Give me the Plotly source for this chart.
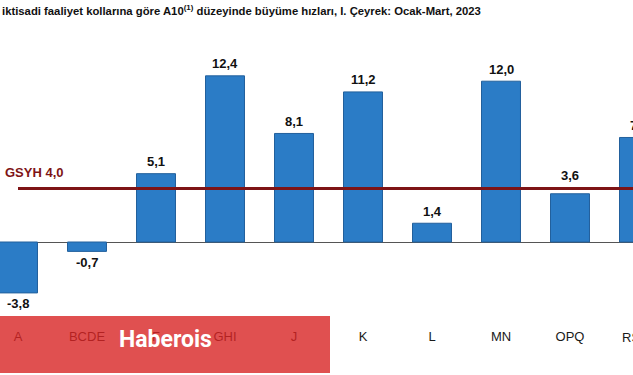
import plotly.graph_objects as go

categories = ["A", "BCDE", "F", "GHI", "J", "K", "L", "MN", "OPQ", "RSTU"]
growth = [-3.8, -0.7, 5.1, 12.4, 8.1, 11.2, 1.4, 12.0, 3.6, 7.8]
gdp_growth = 4.0
title_text = "iktisadi faaliyet kollarına göre A10<sup>(1)</sup> düzeyinde büyüme hızları, I. Çeyrek: Ocak-Mart, 2023"
watermark = "Haberois"

W, H = 633, 375
plot_bottom = 327
zero_px = 242
ppu = 13.4
x_range = [-18 / 69, (W - 18) / 69]

def fmt(v):
    return f"{v:.1f}".replace(".", ",")

def to_paper_x(i):
    return (i - x_range[0]) / (x_range[1] - x_range[0])

def to_paper_y(v):
    y_lo = -(plot_bottom - zero_px) / ppu
    y_hi = zero_px / ppu
    return (v - y_lo) / (y_hi - y_lo)

fig = go.Figure()
fig.add_trace(go.Bar(
    x=list(range(len(categories))), y=growth,
    width=0.565,
    marker=dict(color="#2B7CC6", line=dict(color="#22609C", width=1)),
    hoverinfo="skip",
))

# value labels (paper coords so that partly-visible bars keep their labels)
for i, v in enumerate(growth):
    if v >= 0:
        near_line = gdp_growth - 1.5 < v < gdp_growth
        shift = 18 if near_line else 12
    else:
        shift = -11
    fig.add_annotation(xref="paper", yref="paper", x=to_paper_x(i), y=to_paper_y(v), yshift=shift,
                       text="<b>" + fmt(v) + "</b>", showarrow=False,
                       xanchor="center", yanchor="middle",
                       font=dict(family="Liberation Sans, Arial", size=13, color="#111111"))

# categories outside the visible range (tick labels get dropped there)
for i, c in enumerate(categories):
    if i > x_range[1]:
        fig.add_annotation(xref="paper", yref="paper", x=to_paper_x(i),
                           y=-(337 - plot_bottom) / plot_bottom,
                           text=c, showarrow=False, xanchor="center", yanchor="middle",
                           font=dict(family="Liberation Sans, Arial", size=13, color="#1a1a1a"))

fig.add_shape(type="line", xref="x", yref="y", x0=0, x1=len(categories),
              y0=gdp_growth, y1=gdp_growth,
              line=dict(color="#7E1416", width=3), layer="above")

fig.add_annotation(xref="x", yref="y", x=-0.22, y=gdp_growth + 1.2,
                   text="<b>GSYH " + fmt(gdp_growth) + "</b>",
                   showarrow=False, xanchor="left", yanchor="middle",
                   font=dict(family="Liberation Sans, Arial", size=13, color="#7E1416"))

fig.add_annotation(xref="paper", yref="paper", x=0, y=1 - 12 / H,
                   text="<b>" + title_text + "</b>", showarrow=False,
                   xanchor="left", yanchor="middle",
                   font=dict(family="Liberation Sans, Arial", size=11.3, color="#111111"))

# watermark overlay
fig.add_shape(type="rect", xref="paper", yref="paper",
              x0=0, x1=330 / W,
              y0=-(373 - plot_bottom) / plot_bottom,
              y1=-(316 - plot_bottom) / plot_bottom,
              fillcolor="rgb(216,36,36)", opacity=0.8, line=dict(width=0), layer="above")
fig.add_annotation(xref="paper", yref="paper", x=165 / W, y=-(340 - plot_bottom) / plot_bottom,
                   text="<b>" + watermark + "</b>", showarrow=False,
                   xanchor="center", yanchor="middle",
                   font=dict(family="Roboto, Liberation Sans", size=23, color="white"))

fig.update_layout(
    width=W, height=H,
    margin=dict(l=0, r=0, t=0, b=H - plot_bottom),
    paper_bgcolor="white", plot_bgcolor="white",
    showlegend=False,
    xaxis=dict(range=x_range, tickmode="array",
               tickvals=list(range(len(categories))), ticktext=categories,
               showgrid=False, zeroline=False, showline=False, ticks="",
               tickfont=dict(family="Liberation Sans, Arial", size=13, color="#1a1a1a"),
               fixedrange=True),
    yaxis=dict(range=[-(plot_bottom - zero_px) / ppu, zero_px / ppu],
               showgrid=False, showticklabels=False, ticks="",
               zeroline=True, zerolinecolor="#555555", zerolinewidth=1,
               showline=False, fixedrange=True),
)

fig.write_html("out.html")
